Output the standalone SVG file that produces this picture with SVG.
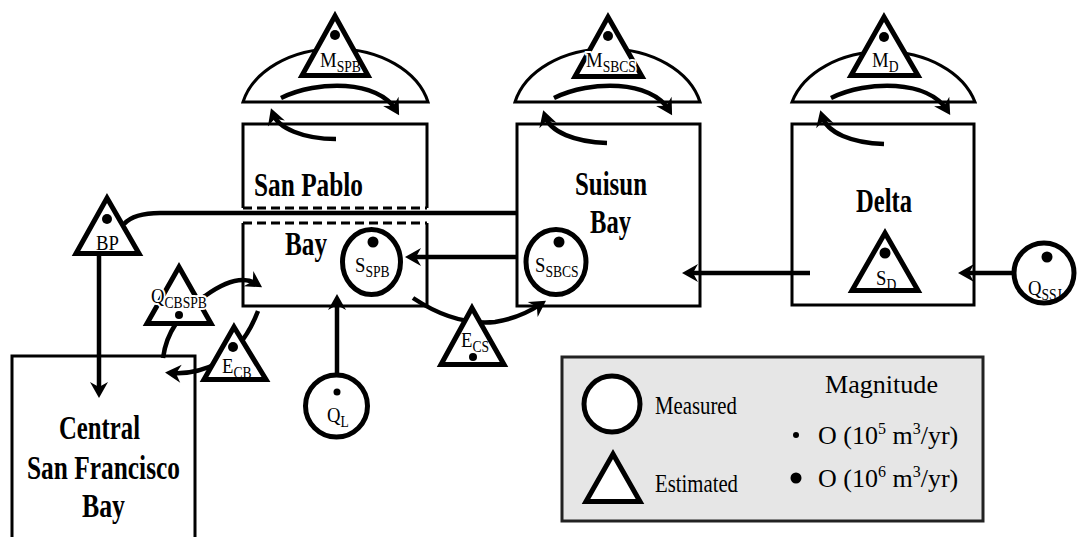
<svg xmlns="http://www.w3.org/2000/svg" width="1078" height="537" viewBox="0 0 1078 537">
  <defs>
    <marker id="ah" viewBox="-11 -10 18 20" refX="0" refY="0" markerWidth="18" markerHeight="20" markerUnits="userSpaceOnUse" orient="auto">
      <path d="M6,0 L-10,-9 L-5,0 L-10,9 Z" fill="#000"/>
    </marker>
    <style>
      .box{fill:none;stroke:#000;stroke-width:3}
      .dash{fill:none;stroke:#000;stroke-width:3;stroke-dasharray:9 5}
      .dome{fill:#fff;stroke:#000;stroke-width:3}
      .node{fill:#fff;stroke:#000;stroke-width:5;stroke-linejoin:miter}
      .flow{fill:none;stroke:#000;stroke-width:4.5;marker-end:url(#ah)}
      .link{fill:none;stroke:#000;stroke-width:4.5}
      .dot{fill:#000}
      .name{font-family:"Liberation Serif","Times New Roman",serif;font-weight:bold;font-size:34px;fill:#000}
      .lbl{font-family:"Liberation Serif","Times New Roman",serif;font-size:22px;fill:#000}
      .sub{font-size:16px}
      .halo{paint-order:stroke;stroke:#fff;stroke-width:4px}
      .leg{font-family:"Liberation Serif","Times New Roman",serif;font-size:26px;fill:#000}
    </style>
  </defs>

  <!-- marsh domes above each region -->
  <g id="marsh-spb">
    <path class="dome" d="M243,102 A95,69 0 0 1 428,102 Z"/>
    <polygon class="node" points="335,16 368,75.5 302,75.5"/>
    <circle class="dot" cx="335" cy="35" r="5"/>
    <text class="lbl" transform="translate(320,67) scale(.85,1)">M<tspan class="sub" dy="5">SPB</tspan></text>
  </g>
  <g id="marsh-sbcs">
    <path class="dome" d="M515,102 A95,69 0 0 1 700,102 Z"/>
    <polygon class="node" points="608,17 642,76.5 575,76.5"/>
    <circle class="dot" cx="608" cy="36" r="5"/>
    <text class="lbl halo" transform="translate(586,67) scale(.85,1)">M<tspan class="sub" dy="5">SBCS</tspan></text>
  </g>
  <g id="marsh-d">
    <path class="dome" d="M792,102 A95,69 0 0 1 975,102 Z"/>
    <polygon class="node" points="884,17 918,75.5 851,75.5"/>
    <circle class="dot" cx="884" cy="37" r="5"/>
    <text class="lbl" transform="translate(872,67) scale(.85,1)">M<tspan class="sub" dy="5">D</tspan></text>
  </g>

  <!-- San Pablo Bay (upper and lower parts) -->
  <g id="san-pablo">
    <path class="box" d="M243,208 V124 H427 V208"/>
    <path class="dash" d="M243,208 H427"/>
    <text class="name" x="254" y="196" textLength="109" lengthAdjust="spacingAndGlyphs">San Pablo</text>
  </g>
  <g id="san-pablo-bay">
    <path class="box" d="M243,223 V306 H427 V223"/>
    <path class="dash" d="M243,223 H427"/>
    <text class="name" x="285" y="255" textLength="42" lengthAdjust="spacingAndGlyphs">Bay</text>
  </g>

  <!-- Suisun Bay -->
  <g id="suisun-bay">
    <rect class="box" x="517" y="124" width="183" height="182"/>
    <text class="name" x="575" y="195" textLength="72" lengthAdjust="spacingAndGlyphs">Suisun</text>
    <text class="name" x="590" y="233" textLength="41" lengthAdjust="spacingAndGlyphs">Bay</text>
  </g>

  <!-- Delta -->
  <g id="delta">
    <rect class="box" x="792" y="124" width="182" height="181"/>
    <text class="name" x="856" y="212" textLength="56" lengthAdjust="spacingAndGlyphs">Delta</text>
  </g>

  <!-- Central San Francisco Bay -->
  <g id="central-bay">
    <path class="box" d="M12,540 V356 H195 V540"/>
    <text class="name" x="59" y="439" textLength="81" lengthAdjust="spacingAndGlyphs">Central</text>
    <text class="name" x="27" y="479" textLength="153" lengthAdjust="spacingAndGlyphs">San Francisco</text>
    <text class="name" x="82" y="517" textLength="43" lengthAdjust="spacingAndGlyphs">Bay</text>
  </g>

  <!-- connectors -->
  <g id="connectors">
    <!-- exchange between each region and its marsh -->
    <g transform="translate(243,0)">
      <path class="flow" d="M38,98 C75,80 135,80 153,110"/>
      <path class="flow" d="M93,139 C60,139 35,128 30,114"/>
    </g>
    <g transform="translate(517,0)">
      <path class="flow" d="M37,98 C74,80 134,80 152,110"/>
      <path class="flow" d="M90,143 C58,142 33,132 28,116"/>
    </g>
    <g transform="translate(792,0)">
      <path class="flow" d="M39,98 C76,80 136,80 155,110"/>
      <path class="flow" d="M92,144 C60,143 35,133 30,116"/>
    </g>

    <!-- BP: bypass line to Central Bay -->
    <path class="link" d="M124,224 Q134,213 160,213 H517"/>
    <path class="flow" d="M99,255 V392"/>

    <!-- advective flows -->
    <path class="flow" d="M517,257 H411"/>
    <path class="flow" d="M810,273 H688"/>
    <path class="flow" d="M1012,273 H964"/>
    <path class="flow" d="M337,374 V300"/>

    <!-- dispersive exchanges -->
    <path class="flow" d="M413,298 Q455,326 495,322 Q520,318 541,304"/>
    <path class="flow" d="M163,358 Q168,320 205,296 Q238,272 257,284"/>
    <path class="flow" d="M258,311 Q245,345 220,362 Q195,375 171,373"/>
  </g>

  <!-- boundary and storage nodes -->
  <g id="node-bp">
    <polygon class="node" points="107,198 139,253.5 76,253.5"/>
    <circle class="dot" cx="107" cy="219" r="5"/>
    <text class="lbl" transform="translate(96,250) scale(.85,1)">BP</text>
  </g>
  <g id="node-qcbspb">
    <polygon class="node" points="179,267 211,323.5 147,323.5"/>
    <circle class="dot" cx="179" cy="315" r="4"/>
    <text class="lbl halo" transform="translate(151,303) scale(.85,1)">Q<tspan class="sub" dy="5">CBSPB</tspan></text>
  </g>
  <g id="node-ecb">
    <polygon class="node" points="234,327 266,379.5 204,379.5"/>
    <circle class="dot" cx="233" cy="347" r="5"/>
    <text class="lbl" transform="translate(222,373) scale(.85,1)">E<tspan class="sub" dy="5">CB</tspan></text>
  </g>
  <g id="node-sspb">
    <ellipse class="node" cx="371.5" cy="262" rx="29" ry="32.5"/>
    <circle class="dot" cx="373" cy="242" r="5.5"/>
    <text class="lbl" transform="translate(355,272) scale(.85,1)">S<tspan class="sub" dy="5">SPB</tspan></text>
  </g>
  <g id="node-ql">
    <circle class="node" cx="336.5" cy="406" r="31"/>
    <circle class="dot" cx="337" cy="392" r="3.5"/>
    <text class="lbl" transform="translate(327,422) scale(.85,1)">Q<tspan class="sub" dy="5">L</tspan></text>
  </g>
  <g id="node-ecs">
    <polygon class="node" points="472,308 504,364.5 441,364.5"/>
    <circle class="dot" cx="473" cy="357" r="4"/>
    <text class="lbl" transform="translate(461,347) scale(.85,1)">E<tspan class="sub" dy="5">CS</tspan></text>
  </g>
  <g id="node-ssbcs">
    <ellipse class="node" cx="556" cy="262" rx="30" ry="32.5"/>
    <circle class="dot" cx="559" cy="242" r="5.5"/>
    <text class="lbl" transform="translate(535,272) scale(.85,1)">S<tspan class="sub" dy="5">SBCS</tspan></text>
  </g>
  <g id="node-sd">
    <polygon class="node" points="885,233 918,290.5 852,290.5"/>
    <circle class="dot" cx="885" cy="253" r="5.5"/>
    <text class="lbl" transform="translate(876,285) scale(.85,1)">S<tspan class="sub" dy="5">D</tspan></text>
  </g>
  <g id="node-qssj">
    <circle class="node" cx="1044" cy="273" r="30"/>
    <circle class="dot" cx="1047" cy="257" r="5.5"/>
    <text class="lbl" transform="translate(1028,295) scale(.85,1)">Q<tspan class="sub" dy="5">SSJ</tspan></text>
  </g>

  <!-- legend -->
  <g id="legend">
    <rect x="562" y="357" width="421" height="164" fill="#e6e6e6" stroke="#222" stroke-width="3"/>
    <circle class="node" cx="612" cy="404" r="28"/>
    <polygon class="node" points="613,454 640,501.5 586,501.5"/>
    <text class="leg" x="655" y="414" textLength="82" lengthAdjust="spacingAndGlyphs">Measured</text>
    <text class="leg" x="655" y="492" textLength="83" lengthAdjust="spacingAndGlyphs">Estimated</text>
    <text class="leg" x="825" y="393" textLength="113" lengthAdjust="spacingAndGlyphs">Magnitude</text>
    <circle class="dot" cx="796" cy="435" r="3"/>
    <text class="leg" x="818" y="444">O (10<tspan font-size="16" dy="-10">5</tspan><tspan dy="10"> m</tspan><tspan font-size="16" dy="-10">3</tspan><tspan dy="10">/yr)</tspan></text>
    <circle class="dot" cx="796" cy="478" r="5.5"/>
    <text class="leg" x="818" y="487">O (10<tspan font-size="16" dy="-10">6</tspan><tspan dy="10"> m</tspan><tspan font-size="16" dy="-10">3</tspan><tspan dy="10">/yr)</tspan></text>
  </g>
</svg>
